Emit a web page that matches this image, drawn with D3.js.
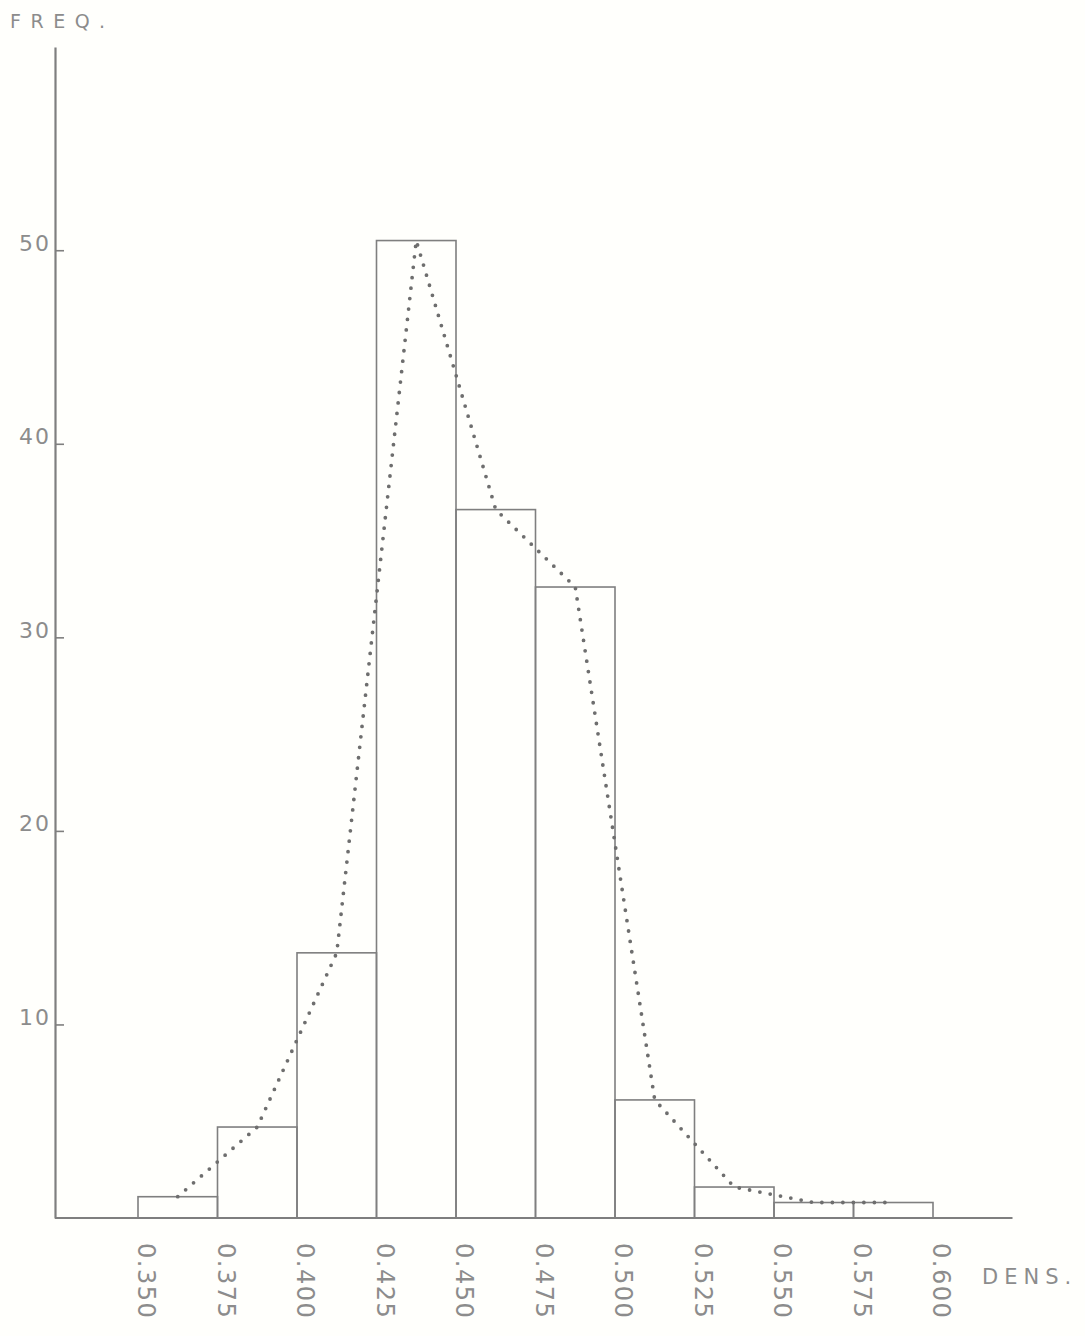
<!DOCTYPE html>
<html>
<head>
<meta charset="utf-8">
<script src="https://cdn.jsdelivr.net/npm/d3@7"></script>
<style>
  html, body { margin: 0; padding: 0; background: #fffffc; }
  svg { display: block; }
  text { font-family: "DejaVu Sans", sans-serif; fill: #8c8c8c; }
</style>
</head>
<body>
<div id="graph"></div>
<script>
// histogram of densities
const binStarts = [0.350, 0.375, 0.400, 0.425, 0.450, 0.475, 0.500, 0.525, 0.550, 0.575];
const freq = [1.1, 4.7, 13.7, 50.5, 36.6, 32.6, 6.1, 1.6, 0.8, 0.8];
const binWidth = 0.025;
const xTicks = [0.350, 0.375, 0.400, 0.425, 0.450, 0.475, 0.500, 0.525, 0.550, 0.575, 0.600];
const xTickLabels = ["0.350", "0.375", "0.400", "0.425", "0.450", "0.475", "0.500", "0.525", "0.550", "0.575", "0.600"];
const yTicks = [10, 20, 30, 40, 50];

const width = 1085, height = 1336;
const ink = "#7f7f7f";
const axisX = 55;

const svg = d3.select('#graph')
  .append('svg')
  .attr('width', width)
  .attr('height', height);

const xScale = d3.scaleLinear()
  .domain([0.350, 0.600])
  .range([138, 933]);

const yScale = d3.scaleLinear()
  .domain([0, 60.5])
  .range([1218, 47]);

// y axis: ticks point right, labels sit on the tick line
const yAxis = svg.append('g')
  .attr('transform', `translate(${axisX},0)`)
  .call(d3.axisLeft(yScale)
    .tickValues(yTicks)
    .tickSizeInner(-9)
    .tickSizeOuter(0)
    .tickPadding(4)
    .tickFormat(d3.format('d')));

yAxis.select('.domain').attr('stroke', ink).attr('stroke-width', 2.2);
yAxis.selectAll('.tick line').attr('stroke', ink).attr('stroke-width', 1.6);
yAxis.selectAll('.tick text')
  .attr('dy', 0)
  .attr('fill', '#8c8c8c')
  .style('font-size', '22px')
  .style('letter-spacing', '2px');

// x axis base line
svg.append('line')
  .attr('x1', axisX)
  .attr('x2', xScale(0.625))
  .attr('y1', yScale(0))
  .attr('y2', yScale(0))
  .attr('stroke', ink)
  .attr('stroke-width', 1.8);

// x tick labels, rotated
const xAxis = svg.append('g')
  .attr('transform', `translate(0, 1243)`)
  .call(d3.axisBottom(xScale)
    .tickValues(xTicks)
    .tickSize(0)
    .tickPadding(0)
    .tickFormat((d, i) => xTickLabels[i]));

xAxis.select('.domain').remove();
xAxis.selectAll('.tick text')
  .attr('transform', 'translate(8,0) rotate(90)')
  .attr('y', 0)
  .attr('dy', '0.35em')
  .attr('text-anchor', 'start')
  .attr('fill', '#8c8c8c')
  .style('font-size', '24px')
  .style('letter-spacing', '1.5px');

// bars (outlines only)
svg.append('g')
  .selectAll('rect')
  .data(binStarts)
  .join('rect')
  .attr('x', d => xScale(d))
  .attr('width', d => xScale(d + binWidth) - xScale(d))
  .attr('y', (d, i) => yScale(freq[i]))
  .attr('height', (d, i) => yScale(0) - yScale(freq[i]))
  .attr('fill', 'none')
  .attr('stroke', ink)
  .attr('stroke-width', 1.6);

// dotted frequency polygon through the bin mid points
svg.append('path')
  .datum(binStarts.map((d, i) => [d + binWidth / 2, freq[i]]))
  .attr('fill', 'none')
  .attr('stroke', '#6e6e6e')
  .attr('stroke-width', 3.8)
  .attr('stroke-linecap', 'round')
  .attr('stroke-dasharray', '0 10.5')
  .attr('d', d3.line()
    .x(d => xScale(d[0]))
    .y(d => yScale(d[1])));

// axis titles
svg.append('text')
  .attr('x', 10)
  .attr('y', 28)
  .style('font-size', '19px')
  .style('letter-spacing', '9.5px')
  .text('FREQ.');

svg.append('text')
  .attr('x', 982)
  .attr('y', 1284)
  .style('font-size', '21px')
  .style('letter-spacing', '6px')
  .text('DENS.');
</script>
</body>
</html>
